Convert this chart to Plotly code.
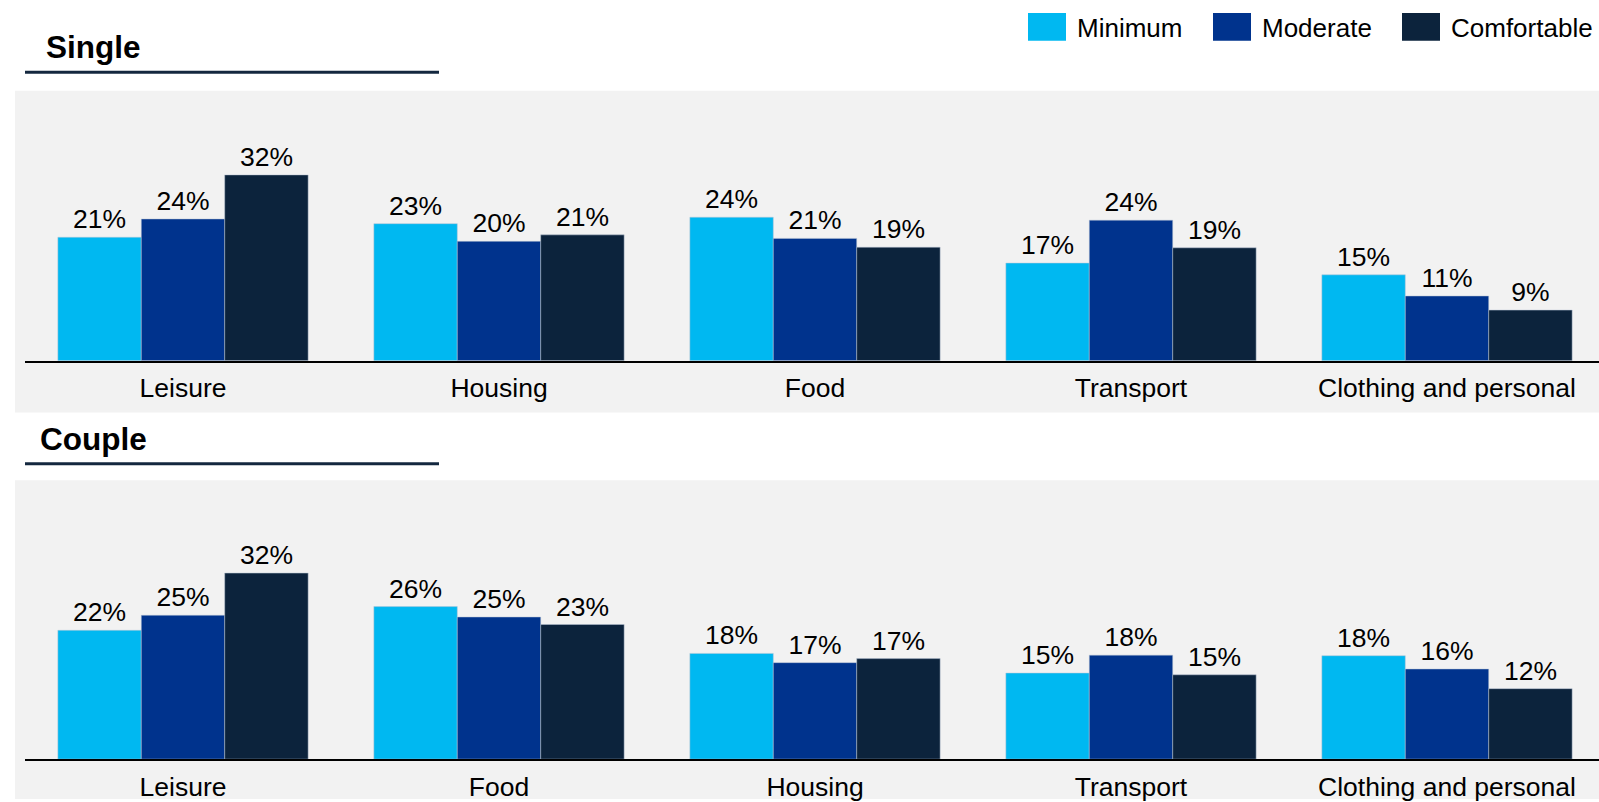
"""Retirement spending mix: share of budget by category, single vs couple."""

import plotly.graph_objects as go

W, H = 1599, 802

LEVELS = ["Minimum", "Moderate", "Comfortable"]
COLORS = ["#00B8F1", "#00338D", "#0C233C"]

SINGLE_CATS = ["Leisure", "Housing", "Food", "Transport", "Clothing and personal"]
SINGLE_MIN = [21.0, 23.3, 24.4, 16.6, 14.6]
SINGLE_MOD = [24.1, 20.3, 20.8, 23.9, 11.0]
SINGLE_COMF = [31.6, 21.4, 19.3, 19.2, 8.6]

COUPLE_CATS = ["Leisure", "Food", "Housing", "Transport", "Clothing and personal"]
COUPLE_MIN = [22.3, 26.4, 18.3, 14.9, 17.9]
COUPLE_MOD = [24.9, 24.6, 16.7, 18.0, 15.6]
COUPLE_COMF = [32.2, 23.3, 17.4, 14.6, 12.2]

FONT = "Liberation Sans, Arial, sans-serif"
TEXT_SIZE = 26.5


def px_x(p):
    """Pixel x -> paper x."""
    return p / W


def px_y(p):
    """Pixel y (from top) -> paper y."""
    return 1 - p / H


def _add_panel(fig, cats, series, xref, yref):
    """Adds one grouped bar panel."""
    for name, vals, color in zip(LEVELS, series, COLORS):
        fig.add_trace(go.Bar(
            x=cats, y=vals, name=name,
            marker={"color": color, "line": {"color": "#B8C4D4", "width": 0.5}},
            texttemplate="%{y:.0f}%", textposition="outside",
            textfont={"size": TEXT_SIZE, "color": "#000000", "family": FONT},
            cliponaxis=False, showlegend=False,
            xaxis=xref, yaxis=yref,
        ))


fig = go.Figure()
_add_panel(fig, SINGLE_CATS, [SINGLE_MIN, SINGLE_MOD, SINGLE_COMF], "x", "y")
_add_panel(fig, COUPLE_CATS, [COUPLE_MIN, COUPLE_MOD, COUPLE_COMF], "x2", "y2")

xaxis_common = {
    "domain": [px_x(25), 1],
    "range": [-0.5, -0.5 + 1574 / 316],
    "showline": True, "linecolor": "#000000", "linewidth": 2,
    "showgrid": False, "zeroline": False, "ticks": "",
    "ticklabelstandoff": 3,
    "tickfont": {"size": TEXT_SIZE, "color": "#000000", "family": FONT},
    "fixedrange": True,
}
yaxis_common = {"visible": False, "showgrid": False, "zeroline": False, "fixedrange": True}

fig.update_layout(
    width=W, height=H,
    margin={"l": 0, "r": 0, "t": 0, "b": 0},
    paper_bgcolor="white", plot_bgcolor="rgba(0,0,0,0)",
    barmode="group", bargap=0.208, bargroupgap=0,
    font={"family": FONT, "color": "#000000"},
    xaxis={**xaxis_common, "anchor": "y"},
    yaxis={**yaxis_common, "domain": [px_y(362), px_y(91)], "range": [0, 271 / 5.9]},
    xaxis2={**xaxis_common, "anchor": "y2"},
    yaxis2={**yaxis_common, "domain": [px_y(762), px_y(482)], "range": [0, 280 / 5.8]},
)

# grey panels behind each chart
for top, bottom in [(91, 414), (482, 802)]:
    fig.add_shape(type="rect", xref="paper", yref="paper", layer="below",
                  x0=px_x(15), x1=1, y0=px_y(bottom), y1=px_y(top),
                  fillcolor="#F2F2F2", line={"width": 0})

# section titles with rule underneath
for label, x, yc, rule in [("Single", 44, 47, 72.5), ("Couple", 38, 441, 465.5)]:
    fig.add_annotation(text="<b>%s</b>" % label, xref="paper", yref="paper",
                       x=px_x(x), y=px_y(yc), xanchor="left", yanchor="middle",
                       showarrow=False, font={"size": 31.5, "color": "#000000"})
    fig.add_shape(type="line", xref="paper", yref="paper",
                  x0=px_x(25), x1=px_x(439), y0=px_y(rule), y1=px_y(rule),
                  line={"color": "#14283F", "width": 3})

# legend
for name, color, sx, tx in zip(LEVELS, COLORS, [1028, 1213, 1402], [1075, 1260, 1449]):
    fig.add_shape(type="rect", xref="paper", yref="paper",
                  x0=px_x(sx), x1=px_x(sx + 38), y0=px_y(41), y1=px_y(13),
                  fillcolor=color, line={"width": 0})
    fig.add_annotation(text=name, xref="paper", yref="paper",
                       x=px_x(tx), y=px_y(28), xanchor="left", yanchor="middle",
                       showarrow=False, font={"size": 26, "color": "#000000"})

# the page's default body margin would shift the whole chart by 8px
fig.write_html("out.html", config={"displayModeBar": False},
               post_script="document.body.style.margin='0';")
